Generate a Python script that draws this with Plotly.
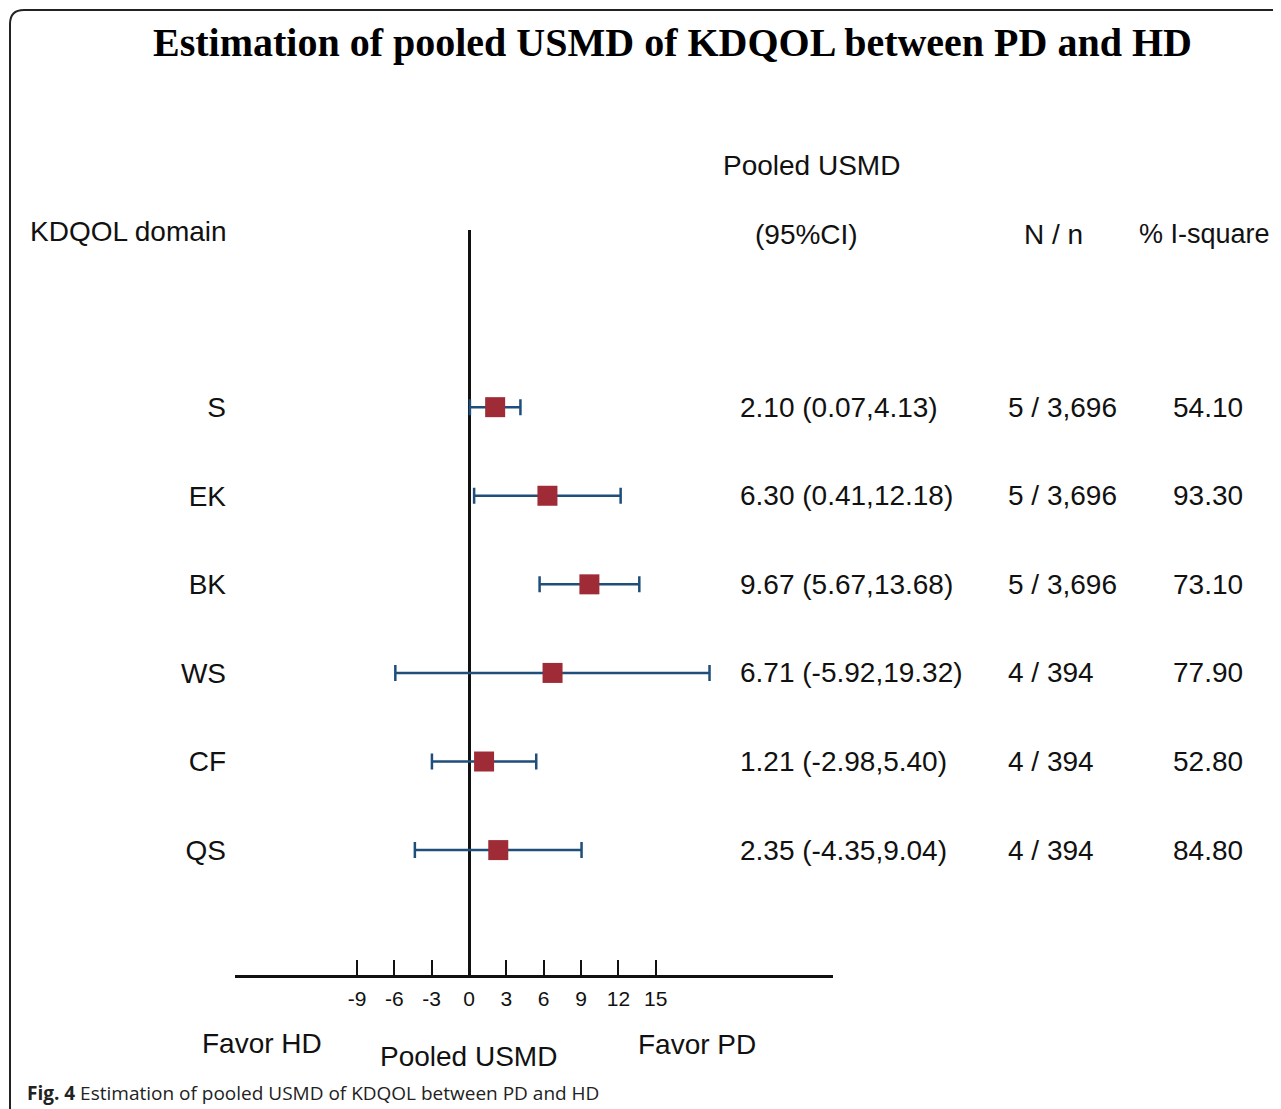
import plotly.graph_objects as go

# ---------------- data ----------------
domains = ["S", "EK", "BK", "WS", "CF", "QS"]
usmd = [2.10, 6.30, 9.67, 6.71, 1.21, 2.35]
ci_low = [0.07, 0.41, 5.67, -5.92, -2.98, -4.35]
ci_high = [4.13, 12.18, 13.68, 19.32, 5.40, 9.04]
n_studies = ["5 / 3,696", "5 / 3,696", "5 / 3,696", "4 / 394", "4 / 394", "4 / 394"]
i_square = ["54.10", "93.30", "73.10", "77.90", "52.80", "84.80"]
x_ticks = [-9, -6, -3, 0, 3, 6, 9, 12, 15]

# ---------------- layout geometry ----------------
OFF = 8                      # page body margin of the html page
W, H = 1281 - OFF, 1109 - OFF
PLOT_L, PLOT_R, PLOT_T, PLOT_B = 235, 833, 230, 975   # target window pixels
L = PLOT_L - OFF
T = PLOT_T - OFF
R = W - (PLOT_R - OFF)
B = H - (PLOT_B - OFF)
PW = W - L - R
PH = H - T - B


def px(x):
    return (x - PLOT_L) / PW


def py(y):
    return (PLOT_B - y) / PH


rows = list(range(len(domains)))
err_plus = [h - m for h, m in zip(ci_high, usmd)]
err_minus = [m - l for m, l in zip(usmd, ci_low)]

ARIAL = "Liberation Sans, Arial, sans-serif"
FS = 28

fig = go.Figure()
fig.add_trace(go.Scatter(
    x=usmd, y=rows, mode="markers",
    marker=dict(symbol="square", size=20, color="#9E2B36",
                line=dict(width=0)),
    error_x=dict(type="data", symmetric=False, array=err_plus,
                 arrayminus=err_minus, color="#1F4E7A", thickness=2.5,
                 width=8),
    showlegend=False, hoverinfo="skip",
))

fig.update_layout(
    width=W, height=H,
    margin=dict(l=L, r=R, t=T, b=B, pad=0),
    paper_bgcolor="white", plot_bgcolor="white",
    font=dict(family=ARIAL, color="#111111"),
    xaxis=dict(
        range=[-18.8, 29.24], tickvals=x_ticks,
        ticktext=[str(v) for v in x_ticks],
        ticks="inside", ticklen=15, tickwidth=2, tickcolor="#111111",
        showline=True, linecolor="#111111", linewidth=2.5,
        showgrid=False, zeroline=True, zerolinecolor="#111111",
        zerolinewidth=2.5, tickfont=dict(size=21, family=ARIAL),
        ticklabelstandoff=3,
    ),
    yaxis=dict(
        range=[6.41, -2.0], tickvals=rows, ticktext=domains,
        showgrid=False, zeroline=False, showline=False, ticks="",
        tickfont=dict(size=FS, family=ARIAL), ticklabelstandoff=8,
    ),
)

ann = []
for i in rows:
    ann.append(dict(x=px(738), y=i, xref="paper", yref="y",
                    text=f"{usmd[i]:.2f} ({ci_low[i]:.2f},{ci_high[i]:.2f})",
                    xanchor="left", yanchor="middle", showarrow=False,
                    font=dict(size=FS, family=ARIAL)))
    ann.append(dict(x=px(1006), y=i, xref="paper", yref="y",
                    text=n_studies[i], xanchor="left", yanchor="middle",
                    showarrow=False, font=dict(size=FS, family=ARIAL)))
    ann.append(dict(x=px(1171), y=i, xref="paper", yref="y",
                    text=i_square[i], xanchor="left", yanchor="middle",
                    showarrow=False, font=dict(size=FS, family=ARIAL)))

headers = [
    ("Pooled USMD", 811, 165, "center", FS),
    ("(95%CI)", 806, 234, "center", FS),
    ("N / n", 1053, 234, "center", FS),
    ("% I-square", 1204, 234, "center", 27),
    ("KDQOL domain", 28, 232, "left", FS),
    ("Favor HD", 262, 1043, "center", FS),
    ("Pooled USMD", 468, 1056, "center", FS),
    ("Favor PD", 697, 1044, "center", FS),
]
for text, x, y, anchor, size in headers:
    ann.append(dict(x=px(x), y=py(y), xref="paper", yref="paper", text=text,
                    xanchor=anchor, yanchor="middle", showarrow=False,
                    font=dict(size=size, family=ARIAL)))

ann.append(dict(x=px(672), y=py(42), xref="paper", yref="paper",
                text="<b>Estimation of pooled USMD of KDQOL between PD and HD</b>",
                xanchor="center", yanchor="middle", showarrow=False,
                font=dict(size=40, family="Liberation Serif, Times New Roman, serif",
                          color="#000000")))
ann.append(dict(x=px(25), y=py(1093), xref="paper", yref="paper",
                text="<b>Fig. 4</b> Estimation of pooled USMD of KDQOL between PD and HD",
                xanchor="left", yanchor="middle", showarrow=False,
                font=dict(size=19, family="Open Sans, Noto Sans, sans-serif",
                          color="#222222")))
fig.update_layout(annotations=ann)

# rounded frame (top-left corner)
x0, xr = px(10), px(1300)
yt, yb = py(10), py(1130)
rx, ry = 14 / PW, 14 / PH
path = (f"M {x0},{yb} L {x0},{yt - ry} Q {x0},{yt} {x0 + rx},{yt} "
        f"L {xr},{yt}")
fig.add_shape(type="path", path=path, xref="paper", yref="paper",
              line=dict(color="#222222", width=2))

fig.write_html("out.html")
